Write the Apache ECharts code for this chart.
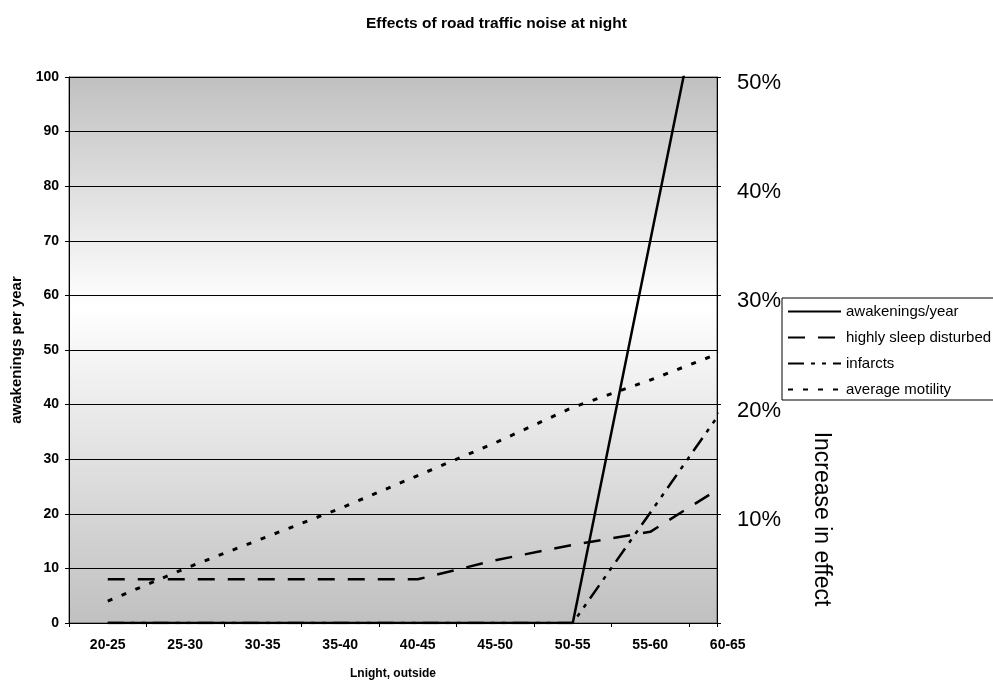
<!DOCTYPE html>
<html>
<head>
<meta charset="utf-8">
<script src="https://cdn.jsdelivr.net/npm/echarts@6/dist/echarts.min.js"></script>
<style>html,body{margin:0;padding:0;background:#fff;}#c{width:993px;height:682px;}</style>
</head>
<body>
<div id="c"></div>
<script>
const categories = ['20-25','25-30','30-35','35-40','40-45','45-50','50-55','55-60','60-65'];
const awakenings = [0,0,0,0,0,0,0,70,140];
const highlySleepDisturbed = [8,8,8,8,8,11.5,14.3,16.7,25.6];
const infarcts = [0,0,0,0,0,0,0,20.2,40.5];
const averageMotility = [4,10,15.5,21,27,33,39.5,44.5,50];
const leftTicks = [0,10,20,30,40,50,60,70,80,90,100];
const rightTicks = [0,10,20,30,40,50];

const FONT = 'Arial, "Liberation Sans", sans-serif';
const chart = echarts.init(document.getElementById('c'), null, {renderer:'canvas'});
const toPts = arr => arr.map((v,i)=>[i+0.5, v]);
const catWidth = 77.5;
const plotW = 648;

const option = {
  backgroundColor:'#fff',
  animation:false,
  title:{text:'Effects of road traffic noise at night', left:'center', top:11,
    textStyle:{fontFamily:FONT, fontSize:15.5, fontWeight:'bold', color:'#000'}},
  legend:{orient:'vertical', left:782, top:298, padding:[6,20,3,5],
    borderColor:'#000', borderWidth:1, backgroundColor:'#fff',
    itemWidth:53, itemHeight:14, itemGap:11,
    itemStyle:{opacity:0, borderWidth:0},
    textStyle:{fontFamily:FONT, fontSize:15, color:'#000'},
    data:['awakenings/year','highly sleep disturbed','infarcts','average motility']},
  grid:[
    {left:69, top:77, width:plotW, height:546, show:true, containLabel:false, outerBoundsMode:'none',
     backgroundColor:new echarts.graphic.LinearGradient(0,0,0,1,[
       {offset:0,color:'#c0c0c0'},{offset:0.42,color:'#ffffff'},{offset:1,color:'#c0c0c0'}]),
     borderColor:'#555', borderWidth:1},
    {left:69, top:77, width:catWidth*categories.length, height:546, show:false, containLabel:false, outerBoundsMode:'none'}
  ],
  xAxis:[
    {type:'value', gridIndex:0, min:0, max:plotW/catWidth, interval:1,
     name:'Lnight, outside', nameLocation:'middle', nameGap:45,
     nameTextStyle:{fontFamily:FONT, fontSize:12, fontWeight:'bold', color:'#000'},
     axisLine:{lineStyle:{color:'#000', width:1}},
     axisTick:{show:true, length:4, lineStyle:{color:'#000'}},
     axisLabel:{show:false}, splitLine:{show:false}},
    {type:'category', gridIndex:1, data:categories, boundaryGap:true,
     axisLine:{show:false}, axisTick:{show:false},
     axisLabel:{margin:15, fontFamily:FONT, fontSize:14, fontWeight:'bold', color:'#000', interval:0}}
  ],
  yAxis:[
    {type:'value', gridIndex:0, min:0, max:100, interval:10, position:'left',
     name:'awakenings per year', nameLocation:'middle', nameGap:43,
     nameTextStyle:{fontFamily:FONT, fontSize:15, fontWeight:'bold', color:'#000'},
     axisLine:{show:true, lineStyle:{color:'#000'}},
     axisTick:{show:true, length:4, lineStyle:{color:'#000'}},
     axisLabel:{margin:10, fontFamily:FONT, fontSize:14, fontWeight:'bold', color:'#000'},
     splitLine:{show:true, lineStyle:{color:'#000', width:1}}},
    {type:'value', gridIndex:0, min:0, max:50, interval:10, position:'right',
     axisLine:{show:true, lineStyle:{color:'#000'}},
     axisTick:{show:true, length:4, lineStyle:{color:'#000'}},
     axisLabel:{margin:20, color:'#000',
       formatter:v => v===0 ? '' : '{p|' + v + '%}',
       rich:{p:{fontFamily:FONT, fontSize:22, color:'#000', padding:[12,0,0,0]}}},
     splitLine:{show:false}},
    {type:'value', gridIndex:1, show:false, min:0, max:100}
  ],
  graphic:[
    {type:'text', x:821, y:519, rotation:-Math.PI/2,
     style:{text:'Increase in effect', fontFamily:FONT, fontSize:23, fill:'#000',
       textAlign:'center', textVerticalAlign:'middle'}}
  ],
  series:[
    {name:'awakenings/year', type:'line', xAxisIndex:0, yAxisIndex:0, data:toPts(awakenings),
     symbol:'none', clip:true, lineStyle:{color:'#000', width:2.5, type:'solid'}, itemStyle:{color:'#000'}},
    {name:'highly sleep disturbed', type:'line', xAxisIndex:0, yAxisIndex:0, data:toPts(highlySleepDisturbed),
     symbol:'none', clip:true, lineStyle:{color:'#000', width:2.5, type:[17,13]}, itemStyle:{color:'#000'}},
    {name:'infarcts', type:'line', xAxisIndex:0, yAxisIndex:0, data:toPts(infarcts),
     symbol:'none', clip:true, lineStyle:{color:'#000', width:2.5, type:[16,7,4,7,4,7]}, itemStyle:{color:'#000'}},
    {name:'average motility', type:'line', xAxisIndex:0, yAxisIndex:0, data:toPts(averageMotility),
     symbol:'none', clip:true, lineStyle:{color:'#000', width:3, type:[5,10]}, itemStyle:{color:'#000'}}
  ]
};
chart.setOption(option);
</script>
</body>
</html>
